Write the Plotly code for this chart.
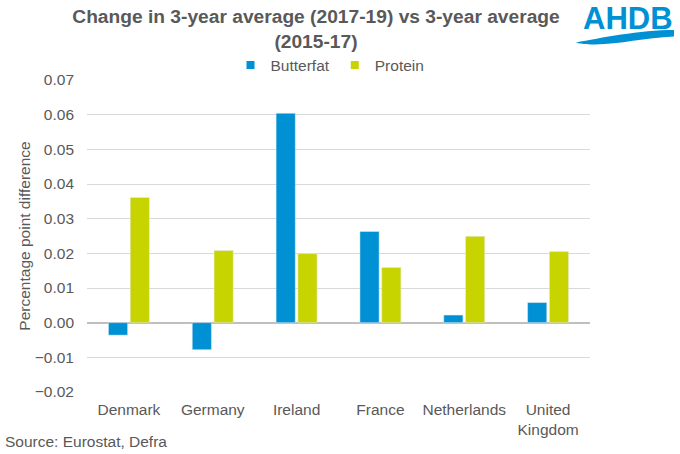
import plotly.graph_objects as go

categories = ["Denmark", "Germany", "Ireland", "France", "Netherlands", "United<br>Kingdom"]
butterfat = [-0.0036, -0.0078, 0.0604, 0.0263, 0.0022, 0.0058]
protein = [0.0361, 0.0208, 0.0199, 0.0159, 0.0249, 0.0205]
y_ticks = [-0.02, -0.01, 0.0, 0.01, 0.02, 0.03, 0.04, 0.05, 0.06, 0.07]
series_names = ["Butterfat", "Protein"]
series_colors = ["#0090D4", "#C8D400"]

W, H = 680, 454
L, R, T, B = 87, 90, 80, 62
GRAY = "#595959"
FONT = "Liberation Sans, Arial, sans-serif"
FS = 15.5

def px(x, y):
    return (x - L) / (W - L - R), (H - B - y) / (H - T - B)

fig = go.Figure()
for name, vals, col in zip(series_names, [butterfat, protein], series_colors):
    fig.add_trace(go.Bar(name=name, x=categories, y=vals, marker_color=col,
                         showlegend=False, hoverinfo="x+y+name"))
for name, col in zip(series_names, series_colors):
    fig.add_trace(go.Scatter(name=name, x=[None], y=[None], mode="markers",
                             marker=dict(symbol="square", size=8, color=col), hoverinfo="skip"))

# wave of the logo
def P(a, b):
    x, y = px(a, b)
    return f"{x:.5f},{y:.5f}"
path = (f"M {P(576, 42.5)} C {P(600, 38)} {P(640, 30)} {P(674, 30)} L {P(674, 36.5)} "
        f"C {P(645, 38)} {P(620, 44)} {P(595, 44.5)} C {P(585, 44.5)} {P(578, 43.5)} {P(576, 42.5)} Z")
fig.add_shape(type="path", xref="paper", yref="paper", path=path,
              fillcolor="#0090D4", line_width=0)

lx, ly = px(674, 0)
fig.add_annotation(text="AHDB", xref="paper", yref="paper", x=lx, y=ly,
                   showarrow=False, xanchor="right", yanchor="top", borderpad=0,
                   font=dict(family="Liberation Sans", size=31, color="#0090D4", weight="bold"))

sx, sy = px(3, 441.5)
fig.add_annotation(text="Source: Eurostat, Defra", xref="paper", yref="paper", x=sx, y=sy,
                   showarrow=False, xanchor="left", yanchor="middle",
                   font=dict(family=FONT, size=FS, color=GRAY))

fig.update_layout(
    width=W, height=H,
    margin=dict(l=L, r=R, t=T, b=B),
    paper_bgcolor="white", plot_bgcolor="white",
    font=dict(family=FONT, size=FS, color=GRAY),
    title=dict(text="<b>Change in 3-year average (2017-19) vs 3-year average<br>(2015-17)</b>",
               x=316 / W, xanchor="center", y=1 - 23 / H, yanchor="middle",
               font=dict(family=FONT, size=19.2, color=GRAY)),
    barmode="group", bargap=0.48, bargroupgap=0.12,
    showlegend=True,
    legend=dict(orientation="h", x=px(330, 0)[0], xanchor="center",
                y=px(0, 65.5)[1], yanchor="middle", font=dict(size=FS, color=GRAY),
                itemwidth=30, traceorder="normal", bgcolor="rgba(0,0,0,0)"),
    xaxis=dict(showgrid=False, showline=False, ticks="", automargin=False,
               ticklabelstandoff=6, tickfont=dict(size=FS, color=GRAY)),
    yaxis=dict(range=[-0.02, 0.07], tickvals=y_ticks, tickformat=".2f", automargin=False,
               gridcolor="#D9D9D9", gridwidth=1, zeroline=True, zerolinecolor="#BFBFBF",
               zerolinewidth=1.5, ticks="", ticklabelstandoff=12,
               tickfont=dict(size=FS, color=GRAY),
               title=dict(text="Percentage point difference", font=dict(size=FS, color=GRAY),
                          standoff=0)),
)
fig.write_html("out.html", config={"displayModeBar": False},
               post_script="document.body.style.margin='0';")
